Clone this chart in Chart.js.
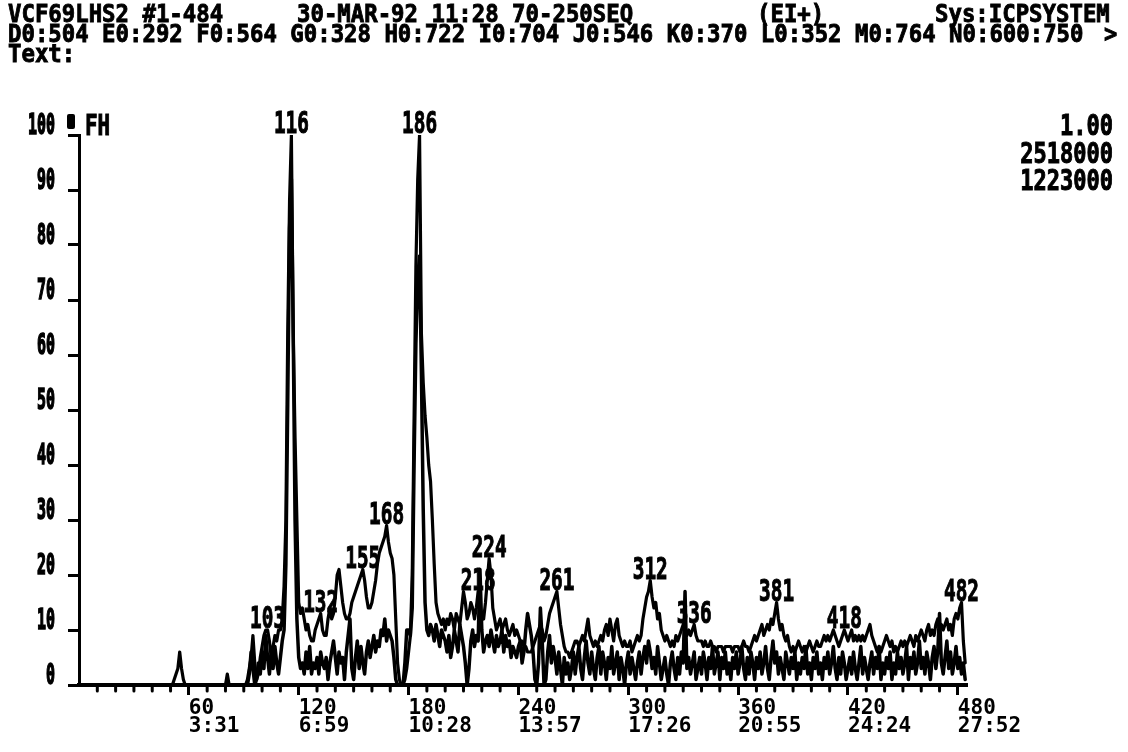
<!DOCTYPE html>
<html>
<head>
<meta charset="utf-8">
<title>VCF69LHS2 #1-484</title>
<script src="https://cdn.jsdelivr.net/npm/chart.js@4.4.1/dist/chart.umd.min.js"></script>
<style>
  html, body { margin: 0; padding: 0; background: #fff; }
  canvas { display: block; }
</style>
</head>
<body>
<canvas id="c" width="1128" height="752"></canvas>
<script>
// Scan number of the first entry in each trace; entry i belongs to scan firstScan + i.
const firstScan = 0;

// Upper trace (% of full scale 2518000), one value per scan.
const traceA = [
  0,0,0,0,0,0,0,0,0,0,        // 0
  0,0,0,0,0,0,0,0,0,0,        // 10
  0,0,0,0,0,0,0,0,0,0,        // 20
  0,0,0,0,0,0,0,0,0,0,        // 30
  0,0,0,0,0,0,0,0,0,0,        // 40
  0,0,1,2,3,6,3,1,0,0,        // 50
  0,0,0,0,0,0,0,0,0,0,        // 60
  0,0,0,0,0,0,0,0,0,0,        // 70
  0,2,0,0,0,0,0,0,0,0,        // 80
  0,0,1,3,5,9,4,1,2,5,        // 90
  7,9,10,10,8,5,7,9,8,10,     // 100
  10,12,18,30,64,88,100,64,45,30, // 110
  15,13,14,12,10,11,9,8,8,10, // 120
  11,12,13,10,9,9,12,14,12,13, // 130
  16,20,21,18,15,13,12,12,13,15, // 140
  16,17,18,19,20,21,19,16,14,14, // 150
  15,17,19,22,24,25,26,27,29,26, // 160
  24,23,20,12,4,1,0,0,1,3,    // 170
  6,9,20,48,76,92,100,64,55,49, // 180
  45,40,37,30,22,15,13,12,11,12, // 190
  10,12,11,13,12,10,13,12,11,14, // 200
  17,15,12,13,15,14,12,14,17,13, // 210
  13,12,15,19,23,20,14,12,10,11, // 220
  12,10,11,12,10,9,10,11,9,10, // 230
  9,8,8,7,7,6,6,6,7,8,        // 240
  9,10,11,10,8,9,11,13,14,15, // 250
  16,17,14,11,9,7,6,6,5,6,    // 260
  7,8,8,7,8,9,8,10,12,9,      // 270
  8,7,8,7,8,9,8,10,11,9,      // 280
  12,10,8,11,12,9,8,7,8,7,    // 290
  7,8,6,7,8,9,8,9,12,14,      // 300
  16,17,19,16,14,15,12,13,10,9, // 310
  8,9,8,7,8,7,9,8,9,10,       // 320
  11,10,9,10,9,10,11,9,8,8,   // 330
  8,7,8,7,7,8,7,7,6,7,        // 340
  7,7,6,7,7,7,7,6,7,7,        // 350
  7,6,7,8,7,7,6,7,8,9,        // 360
  8,9,10,11,9,10,11,10,12,11, // 370
  13,15,12,10,11,9,8,9,7,6,   // 380
  7,6,7,8,7,6,7,6,7,8,        // 390
  7,6,7,8,7,7,8,9,8,9,        // 400
  8,9,10,9,8,7,8,9,10,9,      // 410
  8,9,10,8,9,8,9,8,9,8,       // 420
  9,10,11,9,8,7,6,7,6,7,      // 430
  8,9,8,7,8,6,7,6,7,8,        // 440
  7,8,7,8,9,8,7,9,8,9,        // 450
  10,9,8,10,11,9,10,9,11,12,  // 460
  10,11,10,11,12,10,11,9,12,13, // 470
  12,14,15,8,4                // 480
];

// Lower trace (% of full scale 1223000), one value per scan.
const traceB = [
  0,0,0,0,0,0,0,0,0,0,        // 0
  0,0,0,0,0,0,0,0,0,0,        // 10
  0,0,0,0,0,0,0,0,0,0,        // 20
  0,0,0,0,0,0,0,0,0,0,        // 30
  0,0,0,0,0,0,0,0,0,0,        // 40
  0,0,0,0,0,0,0,0,0,0,        // 50
  0,0,0,0,0,0,0,0,0,0,        // 60
  0,0,0,0,0,0,0,0,0,0,        // 70
  0,0,0,0,0,0,0,0,0,0,        // 80
  0,0,0,2,6,3,0,1,4,2,        // 90
  6,3,9,5,2,6,3,7,4,2,        // 100
  5,8,10,22,51,83,92,64,30,12, // 110
  5,3,4,2,6,3,7,2,4,3,        // 120
  5,2,6,4,3,5,1,4,6,8,        // 130
  5,2,6,4,5,1,6,9,12,3,       // 140
  1,5,8,3,7,4,2,6,8,5,        // 150
  7,9,6,8,7,10,9,12,8,10,     // 160
  9,8,5,1,0,0,0,0,4,10,       // 170
  10,9,14,40,62,74,78,57,32,15, // 180
  10,9,11,10,8,11,9,7,10,9,   // 190
  8,6,9,5,7,10,8,6,11,9,      // 200
  7,4,0,3,8,10,7,9,8,21,      // 210
  10,6,8,9,7,10,8,6,9,7,      // 220
  8,10,6,9,7,8,5,7,6,5,       // 230
  7,8,4,6,10,13,11,9,6,1,     // 240
  0,4,14,8,0,1,6,9,4,7,       // 250
  5,2,6,3,0,5,2,4,1,3,        // 260
  6,2,5,7,3,1,5,8,4,2,        // 270
  6,3,1,5,7,2,6,4,1,5,        // 280
  3,7,2,4,6,1,5,3,0,4,        // 290
  6,2,5,3,1,4,6,2,5,7,        // 300
  4,8,6,3,5,2,7,4,1,3,        // 310
  5,2,0,4,6,3,1,5,2,6,        // 320
  4,17,3,5,2,4,6,1,3,5,       // 330
  2,6,4,1,5,3,7,2,4,6,        // 340
  1,5,3,6,2,4,1,5,3,6,        // 350
  2,4,7,3,1,5,2,6,4,1,        // 360
  5,3,6,2,4,7,3,1,5,8,        // 370
  4,6,2,5,3,1,6,4,2,5,        // 380
  3,6,1,4,2,5,3,7,2,4,        // 390
  1,5,3,6,2,4,1,5,3,6,        // 400
  2,4,7,3,1,5,2,6,4,1,        // 410
  3,5,2,6,3,1,4,7,2,5,        // 420
  3,1,4,6,2,5,3,7,1,4,        // 430
  2,5,3,6,1,4,2,6,3,5,        // 440
  2,4,7,1,5,3,6,2,4,8,        // 450
  3,5,2,6,4,1,5,7,3,6,        // 460
  13,4,2,5,8,3,6,2,4,7,       // 470
  3,5,2,4,1                   // 480
];

// Scans whose numbers are printed above the peaks.
const peakLabels = [103, 116, 132, 155, 168, 186, 218, 224, 261, 312, 336, 381, 418, 482];

// Labelled scan ticks and the retention times printed under them.
const xTickScans = [60, 120, 180, 240, 300, 360, 420, 480];
const xTickTimes = ['3:31', '6:59', '10:28', '13:57', '17:26', '20:55', '24:24', '27:52'];

// Header block.
const headerLine1 = ['VCF69LHS2 #1-484', '30-MAR-92 11:28 70-250SEQ', '(EI+)', 'Sys:ICPSYSTEM'];
const headerLine2 = 'D0:504 E0:292 F0:564 G0:328 H0:722 I0:704 J0:546 K0:370 L0:352 M0:764 N0:600:750';
const headerLine3 = 'Text:';
const scaleTexts = ['1.00', '2518000', '1223000'];

const MONO = "'DejaVu Sans Mono', 'Liberation Mono', monospace";

const toPoints = arr => arr.map((v, i) => ({ x: firstScan + i, y: v }));

// Plotter-style lettering: a monospaced bold face stretched to a tall, narrow cell.
function plotText(ctx, str, x, y, size, sx, sy, align, baseline, weight) {
  ctx.save();
  ctx.translate(x, y);
  ctx.scale(sx, sy);
  ctx.font = 'bold ' + size + 'px ' + MONO;
  ctx.textAlign = align || 'left';
  ctx.textBaseline = baseline || 'alphabetic';
  ctx.fillText(str, 0, 0);
  ctx.lineWidth = weight || 0.8;
  ctx.strokeText(str, 0, 0);
  ctx.restore();
}

const decorations = {
  id: 'decorations',
  beforeDraw(chart) {
    const ctx = chart.ctx;
    ctx.save();
    ctx.fillStyle = '#fff';
    ctx.fillRect(0, 0, chart.width, chart.height);
    ctx.restore();
  },
  afterDraw(chart) {
    const ctx = chart.ctx;
    const xs = chart.scales.x, ys = chart.scales.y;
    ctx.save();
    ctx.fillStyle = '#000';
    ctx.strokeStyle = '#000';

    // minor scan ticks every 10 scans
    ctx.lineWidth = 3;
    ctx.lineCap = 'round';
    for (let s = 10; s < 485; s += 10) {
      if (xTickScans.includes(s)) continue;
      const px = xs.getPixelForValue(s);
      ctx.beginPath();
      ctx.moveTo(px, ys.bottom + 2);
      ctx.lineTo(px, ys.bottom + 6);
      ctx.stroke();
    }

    // intensity tick labels, from the y scale's own ticks
    ys.ticks.forEach(t => {
      plotText(ctx, String(t.value), 55, ys.getPixelForValue(t.value) - 1, 22, 0.68, 1.32, 'right', 'alphabetic', 1.3);
    });

    // header
    const h1x = [8, 297, 757, 935];
    headerLine1.forEach((t, i) => plotText(ctx, t, h1x[i], 22, 22, 1.015, 1.1));
    plotText(ctx, headerLine2, 8, 42, 22, 1.015, 1.1);
    plotText(ctx, '>', 1104, 42, 22, 1, 1.1);
    plotText(ctx, headerLine3, 8, 62, 22, 1.015, 1.1);

    // axis caption beside the 100 tick
    const top = ys.getPixelForValue(100);
    ctx.beginPath();
    if (ctx.roundRect) ctx.roundRect(67, top - 21, 8, 15, 2); else ctx.rect(67, top - 21, 8, 15);
    ctx.fill();
    plotText(ctx, 'FH', 85, top, 22, 0.95, 1.3);

    // full-scale values at the right
    scaleTexts.forEach((t, i) => plotText(ctx, t, 1113, 135 + i * 27.5, 22, 1.0, 1.25, 'right'));

    // peak scan numbers
    peakLabels.forEach(s => {
      const i = s - firstScan;
      const v = Math.max(traceA[i], traceB[i]);
      plotText(ctx, String(s), xs.getPixelForValue(s), ys.getPixelForValue(v) - 2, 22, 0.88, 1.35, 'center');
    });
    ctx.restore();
  }
};

new Chart(document.getElementById('c'), {
  type: 'line',
  data: {
    datasets: [
      { data: toPoints(traceB), borderColor: '#000', borderWidth: 3.5, pointRadius: 0,
        borderJoinStyle: 'round', borderCapStyle: 'round', tension: 0 },
      { data: toPoints(traceA), borderColor: '#000', borderWidth: 3.2, pointRadius: 0,
        borderJoinStyle: 'round', borderCapStyle: 'round', tension: 0 }
    ]
  },
  options: {
    responsive: false,
    devicePixelRatio: 1,
    animation: false,
    events: [],
    layout: { padding: { top: 135, right: 161, bottom: 0, left: 0 } },
    plugins: { legend: { display: false }, tooltip: { enabled: false } },
    scales: {
      x: {
        type: 'linear',
        min: 0,
        max: 485,
        afterFit: s => { s.height = 67; },
        border: { display: true, color: '#000', width: 4 },
        grid: {
          drawOnChartArea: false,
          drawTicks: true,
          tickLength: 10,
          tickWidth: 3,
          tickColor: c => (c.tick && xTickScans.includes(c.tick.value)) ? '#000' : 'rgba(0,0,0,0)'
        },
        ticks: {
          stepSize: 10,
          includeBounds: false,
          autoSkip: false,
          maxRotation: 0,
          minRotation: 0,
          align: 'start',
          padding: 4,
          color: '#000',
          font: { family: MONO, size: 21, weight: 'bold', lineHeight: 0.88 },
          callback: v => {
            const i = xTickScans.indexOf(v);
            return i >= 0 ? [String(v), xTickTimes[i]] : '';
          }
        }
      },
      y: {
        min: 0,
        max: 100,
        afterFit: s => { s.width = 79; },
        border: { display: true, color: '#000', width: 3 },
        grid: {
          drawOnChartArea: false,
          drawTicks: true,
          tickLength: 11,
          tickWidth: 3,
          tickColor: '#000'
        },
        ticks: {
          stepSize: 10,
          display: false
        }
      }
    }
  },
  plugins: [decorations]
});
</script>
</body>
</html>
